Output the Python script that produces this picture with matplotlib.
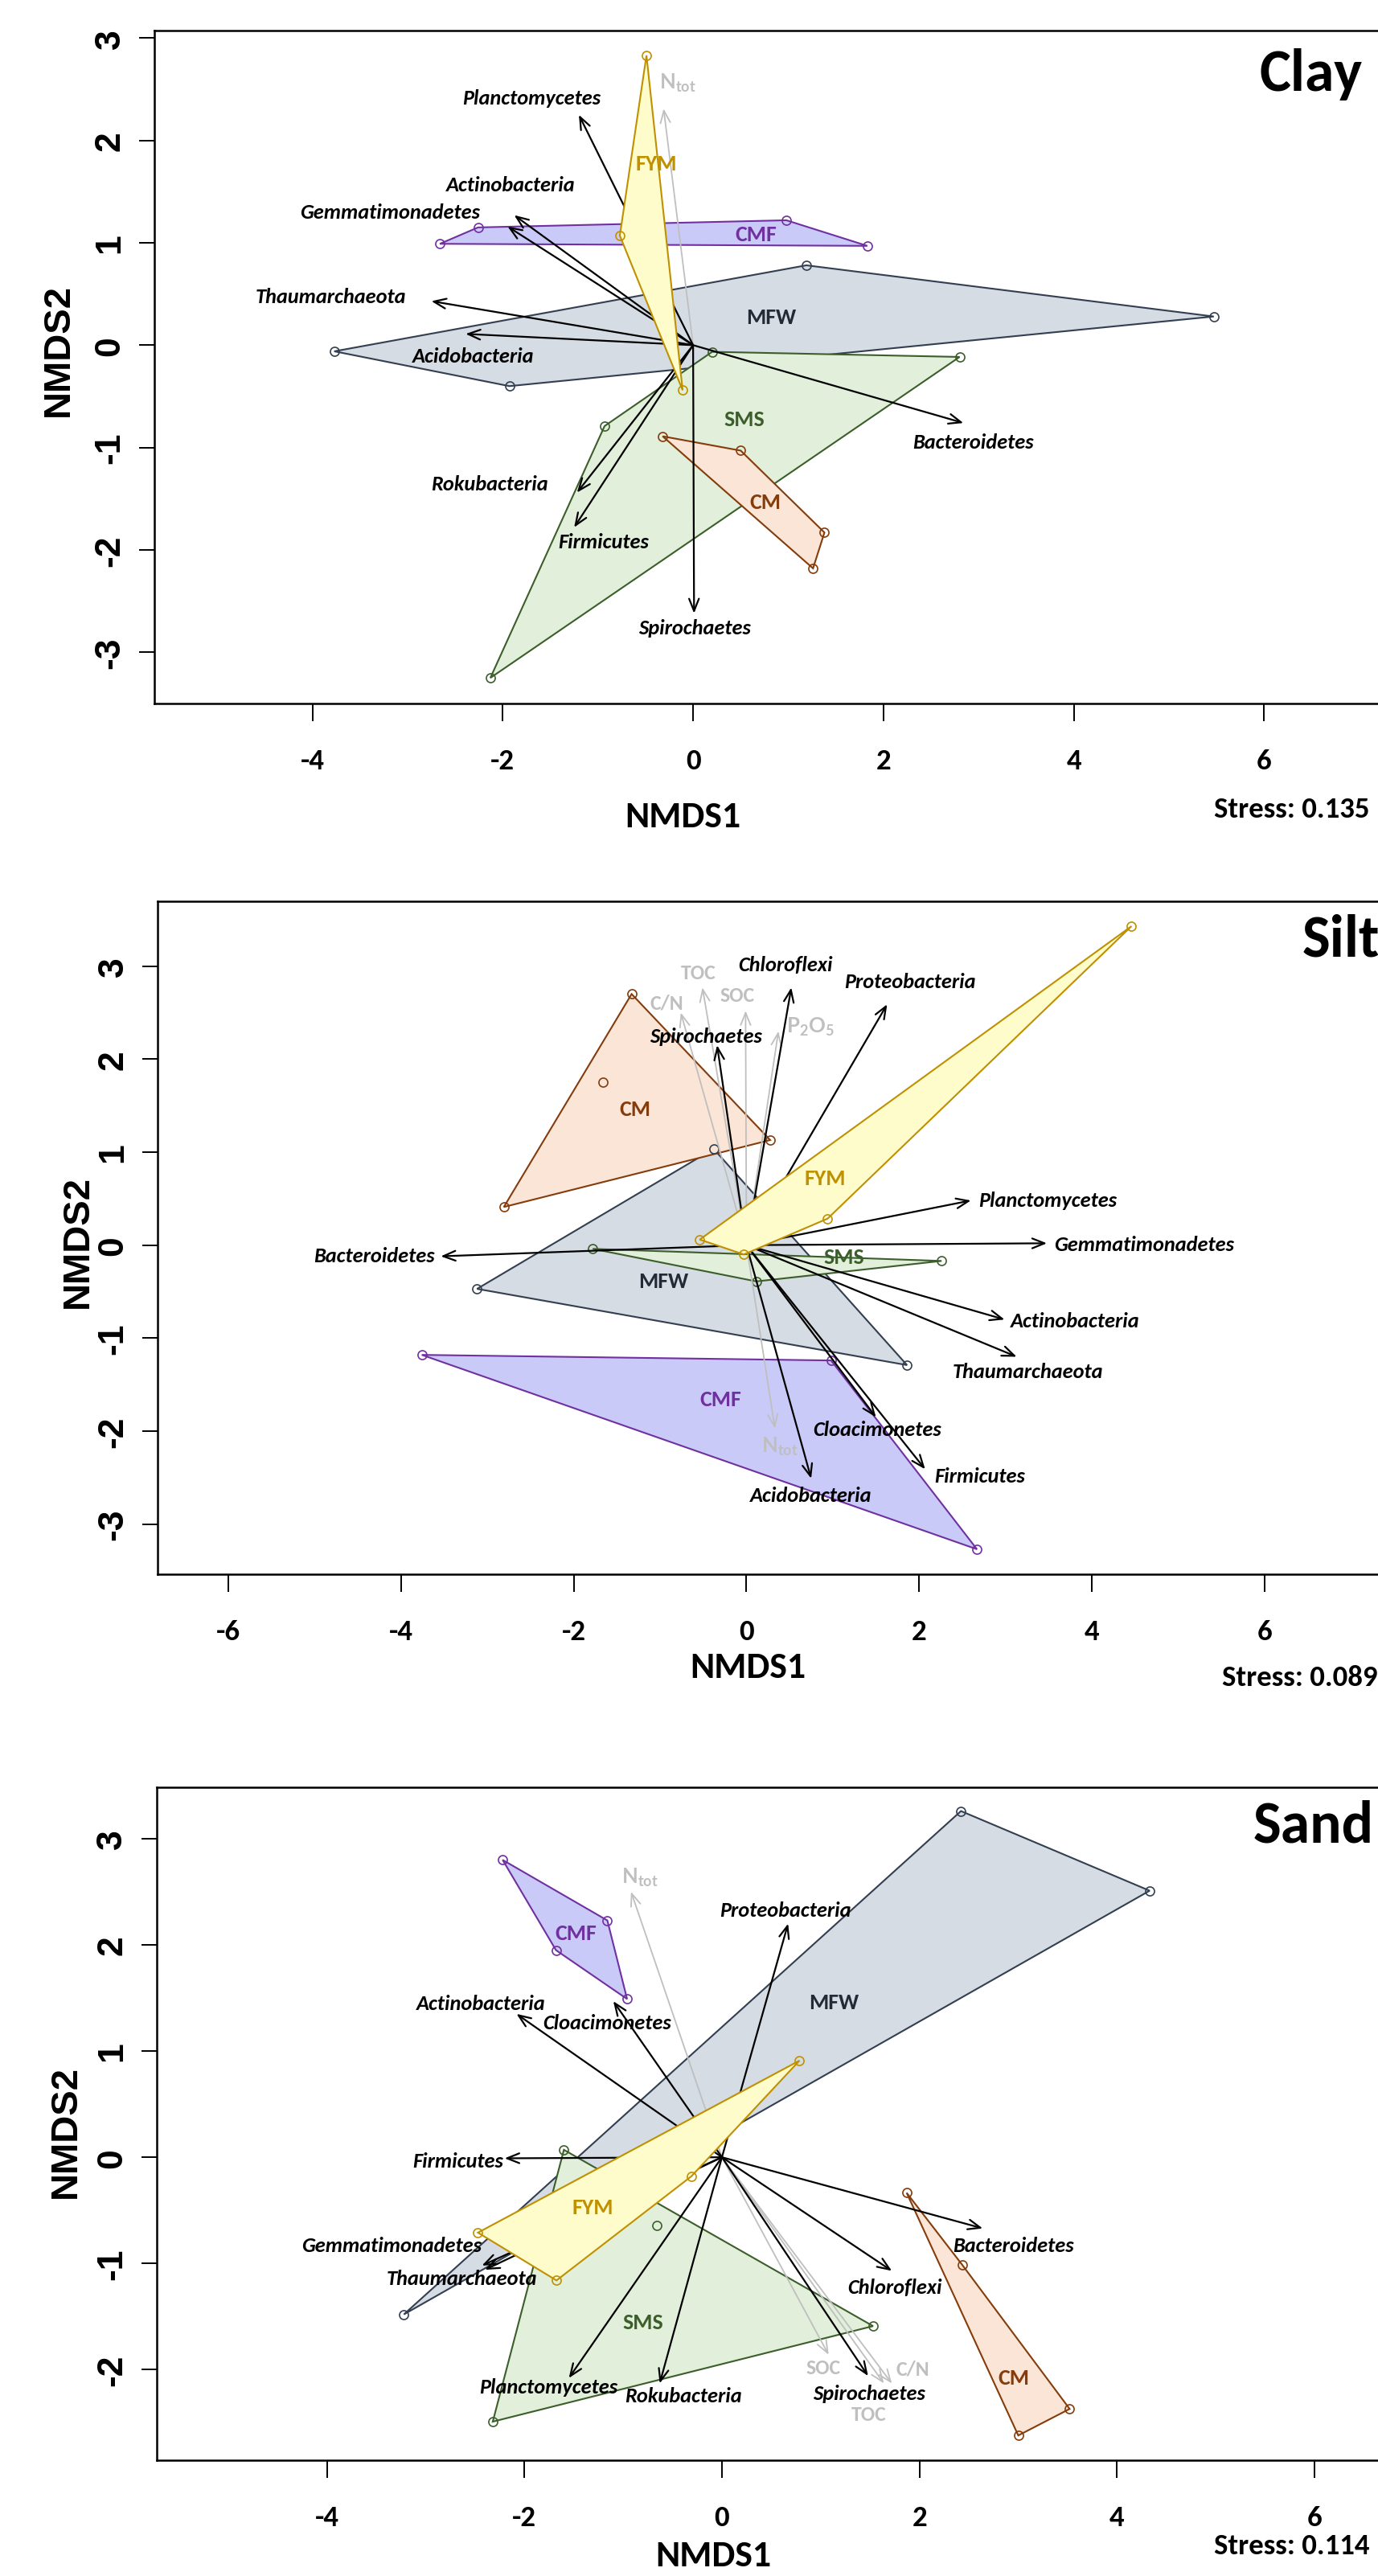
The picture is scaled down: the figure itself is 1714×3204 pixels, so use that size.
import matplotlib
matplotlib.use("Agg")
import matplotlib.pyplot as plt
from matplotlib.patches import Polygon

W, H = 1715, 3205
DPI = 100

CAL = ["Carlito", "Lato", "DejaVu Sans"]
ARI = ["Liberation Sans", "DejaVu Sans"]
plt.rcParams["mathtext.fontset"] = "custom"
plt.rcParams["mathtext.rm"] = "Lato"
plt.rcParams["mathtext.bf"] = "Lato:bold"

FILL = {"MFW": "#d6dce4", "SMS": "#e2efda", "CMF": "#cacaf9", "CM": "#fbe5d6", "FYM": "#fffccc"}
EDGE = {"MFW": "#333f50", "SMS": "#3b5e2b", "CMF": "#7030a0", "CM": "#843c0c", "FYM": "#bf9000"}
LABC = {"MFW": "#222a35", "SMS": "#3b5e2b", "CMF": "#7030a0", "CM": "#843c0c", "FYM": "#bf9000"}
GREY = "#bfbfbf"
HEAVY = 800

# ---------------- Clay ----------------
clay_sites = {
    "MFW": [(-3.77, -0.06), (-1.93, -0.40), (5.47, 0.28), (1.19, 0.78)],
    "SMS": [(-2.13, -3.25), (2.80, -0.115), (0.20, -0.065), (-0.93, -0.79)],
    "CMF": [(-2.66, 0.99), (1.83, 0.97), (0.98, 1.22), (-2.26, 1.15)],
    "CM": [(-0.32, -0.89), (1.26, -2.18), (1.38, -1.83), (0.50, -1.03)],
    "FYM": [(-0.49, 2.83), (-0.77, 1.07), (-0.11, -0.44)],
}
clay_group_xy = {"FYM": (-0.39, 1.78), "CMF": (0.66, 1.09), "MFW": (0.82, 0.28),
                 "SMS": (0.54, -0.72), "CM": (0.76, -1.53)}
clay_taxa = ["Planctomycetes", "Actinobacteria", "Gemmatimonadetes", "Thaumarchaeota",
             "Acidobacteria", "Bacteroidetes", "Rokubacteria", "Firmicutes", "Spirochaetes"]
clay_taxa_x = [-1.20, -1.88, -1.95, -2.75, -2.39, 2.84, -1.22, -1.25, 0.01]
clay_taxa_y = [2.25, 1.27, 1.16, 0.43, 0.11, -0.76, -1.44, -1.78, -2.62]
clay_taxa_lab = [(-1.70, 2.42), (-1.92, 1.57), (-3.18, 1.30), (-3.81, 0.48), (-2.31, -0.10),
                 (2.94, -0.94), (-2.14, -1.35), (-0.94, -1.92), (0.02, -2.76)]
clay_env = [r"$\mathbf{N_{tot}}$"]
clay_env_x = [-0.31]
clay_env_y = [2.31]
clay_env_lab = [(-0.16, 2.57)]

# ---------------- Silt ----------------
silt_sites = {
    "MFW": [(-3.12, -0.47), (-0.38, 1.035), (1.86, -1.29)],
    "SMS": [(-1.78, -0.04), (2.26, -0.17), (0.115, -0.39)],
    "CMF": [(-3.76, -1.18), (0.98, -1.24), (2.67, -3.27)],
    "CM": [(-1.33, 2.70), (-2.81, 0.41), (0.275, 1.13), (-1.66, 1.75)],
    "FYM": [(4.46, 3.43), (-0.54, 0.06), (-0.03, -0.10), (0.94, 0.285)],
}
silt_group_xy = {"FYM": (0.91, 0.72), "CMF": (-0.30, -1.65), "MFW": (-0.96, -0.38),
                 "SMS": (1.13, -0.12), "CM": (-1.29, 1.47)}
silt_taxa = ["Bacteroidetes", "Chloroflexi", "Proteobacteria", "Spirochaetes", "Planctomycetes",
             "Gemmatimonadetes", "Actinobacteria", "Thaumarchaeota", "Cloacimonetes",
             "Firmicutes", "Acidobacteria"]
silt_taxa_x = [-3.54, 0.52, 1.63, -0.34, 2.60, 3.48, 2.99, 3.13, 1.50, 2.07, 0.75]
silt_taxa_y = [-0.12, 2.77, 2.59, 2.15, 0.48, 0.02, -0.80, -1.20, -1.85, -2.41, -2.51]
silt_taxa_lab = [(-4.31, -0.11), (0.45, 3.02), (1.89, 2.84), (-0.47, 2.25), (3.49, 0.49),
                 (4.61, 0.01), (3.81, -0.81), (3.26, -1.36), (1.51, -1.98), (2.70, -2.48),
                 (0.75, -2.69)]
silt_env = ["TOC", "SOC", "C/N", r"$\mathbf{P_2O_5}$", r"$\mathbf{N_{tot}}$"]
silt_env_x = [-0.51, -0.01, -0.76, 0.37, 0.33]
silt_env_y = [2.77, 2.52, 2.50, 2.30, -1.97]
silt_env_lab = [(-0.56, 2.93), (-0.11, 2.69), (-0.92, 2.61), (0.74, 2.35), (0.39, -2.16)]

# ---------------- Sand ----------------
sand_sites = {
    "MFW": [(2.42, 3.26), (4.33, 2.51), (-3.22, -1.48)],
    "SMS": [(-1.60, 0.07), (-2.32, -2.49), (1.53, -1.59), (-0.66, -0.64)],
    "CMF": [(-2.22, 2.80), (-1.16, 2.23), (-0.96, 1.49), (-1.68, 1.95)],
    "CM": [(1.87, -0.335), (2.43, -1.01), (3.52, -2.37), (3.00, -2.62)],
    "FYM": [(0.785, 0.91), (-2.47, -0.71), (-1.675, -1.16), (-0.31, -0.18)],
}
sand_group_xy = {"FYM": (-1.31, -0.47), "CMF": (-1.48, 2.11), "MFW": (1.13, 1.46),
                 "SMS": (-0.80, -1.55), "CM": (2.95, -2.07)}
sand_taxa = ["Proteobacteria", "Actinobacteria", "Cloacimonetes", "Firmicutes",
             "Gemmatimonadetes", "Thaumarchaeota", "Planctomycetes", "Rokubacteria",
             "Bacteroidetes", "Chloroflexi", "Spirochaetes"]
sand_taxa_x = [0.67, -2.08, -1.10, -2.20, -2.43, -2.40, -1.55, -0.63, 2.64, 1.72, 1.48]
sand_taxa_y = [2.20, 1.35, 1.47, -0.01, -1.02, -1.06, -2.08, -2.13, -0.67, -1.07, -2.06]
sand_taxa_lab = [(0.64, 2.33), (-2.44, 1.45), (-1.16, 1.27), (-2.67, -0.03), (-3.34, -0.83),
                 (-2.63, -1.14), (-1.76, -2.16), (-0.39, -2.24), (2.95, -0.83), (1.75, -1.22),
                 (1.49, -2.22)]
sand_env = [r"$\mathbf{N_{tot}}$", "SOC", "C/N", "TOC"]
sand_env_x = [-0.92, 1.08, 1.72, 1.64]
sand_env_y = [2.50, -1.86, -2.13, -2.13]
sand_env_lab = [(-0.83, 2.64), (1.03, -1.98), (1.93, -1.99), (1.49, -2.42)]

stress = [0.135, 0.089, 0.114]
soils = ["Clay", "Silt", "Sand"]


def hull(pts):
    pts = sorted(set(pts))
    if len(pts) < 3:
        return pts

    def cross(o, a, b):
        return (a[0] - o[0]) * (b[1] - o[1]) - (a[1] - o[1]) * (b[0] - o[0])

    lo, up = [], []
    for p in pts:
        while len(lo) >= 2 and cross(lo[-2], lo[-1], p) <= 0:
            lo.pop()
        lo.append(p)
    for p in reversed(pts):
        while len(up) >= 2 and cross(up[-2], up[-1], p) <= 0:
            up.pop()
        up.append(p)
    return lo[:-1] + up[:-1]


def draw_arrows(ax, xs, ys, color, lw, z):
    for x, y in zip(xs, ys):
        ax.annotate("", xy=(x, y), xytext=(0, 0), zorder=z,
                    arrowprops=dict(arrowstyle="->,head_length=0.55,head_width=0.22",
                                    color=color, lw=lw, shrinkA=0, shrinkB=0,
                                    mutation_scale=20))


def draw_panel(ax, sites, group_xy, taxa, tx, ty, tlab, env, ex, ey, elab):
    order = ["MFW", "SMS", "CMF", "CM", "FYM"]
    for g in order:
        z = 4 if g == "FYM" else 1
        ax.add_patch(Polygon(hull(sites[g]), closed=True, fc=FILL[g], ec=EDGE[g],
                             lw=1.5, zorder=z))
        xs = [p[0] for p in sites[g]]
        ys = [p[1] for p in sites[g]]
        ax.plot(xs, ys, "o", mfc="none", mec=EDGE[g], ms=8, mew=1.2, zorder=z + 0.5)
        gx, gy = group_xy[g]
        ax.text(gx, gy, g, color=LABC[g], family=CAL, weight=HEAVY, fontsize=20,
                ha="center", va="center", zorder=6)
    draw_arrows(ax, ex, ey, GREY, 1.3, 2)
    draw_arrows(ax, tx, ty, "black", 1.6, 3)
    for name, (lx, ly) in zip(taxa, tlab):
        ax.text(lx, ly, name, family=CAL, weight=HEAVY, style="italic", fontsize=19,
                ha="center", va="center", zorder=6)
    for name, (lx, ly) in zip(env, elab):
        ax.text(lx, ly, name, family=CAL, weight="bold", fontsize=18.5, color=GREY,
                ha="center", va="center", zorder=6)


fig = plt.figure(figsize=(W / DPI, H / DPI), dpi=DPI)

# pixel frames: left, top, bottom
frames = [(192, 39, 876), (195.8, 1121.7, 1958.7), (194.7, 2224, 3060.7)]
xlims = [(-5.66, 7.204), (-6.822, 7.324), (-5.724, 6.650)]
ylims = [(-3.50, 3.073), (-3.536, 3.700), (-2.851, 3.484)]
xticks = [[-4, -2, 0, 2, 4, 6], [-6, -4, -2, 0, 2, 4, 6], [-4, -2, 0, 2, 4, 6]]
yticks = [[-3, -2, -1, 0, 1, 2, 3], [-3, -2, -1, 0, 1, 2, 3], [-2, -1, 0, 1, 2, 3]]
ylab_px = [(72.7, 436), (97, 1545), (82, 2652)]
xlab_px = [(849, 1028.6), (930, 2086.7), (887, 3191.7)]
stress_px = [(1606.6, 1016.6), (1616.3, 2096.7), (1606.6, 3177.3)]
title_px = [(1567, 113.3), (1619.6, 1189.3), (1558.9, 2291.7)]

panels = [
    (clay_sites, clay_group_xy, clay_taxa, clay_taxa_x, clay_taxa_y, clay_taxa_lab,
     clay_env, clay_env_x, clay_env_y, clay_env_lab),
    (silt_sites, silt_group_xy, silt_taxa, silt_taxa_x, silt_taxa_y, silt_taxa_lab,
     silt_env, silt_env_x, silt_env_y, silt_env_lab),
    (sand_sites, sand_group_xy, sand_taxa, sand_taxa_x, sand_taxa_y, sand_taxa_lab,
     sand_env, sand_env_x, sand_env_y, sand_env_lab),
]

for i, data in enumerate(panels):
    l, t, b = frames[i]
    ax = fig.add_axes([l / W, 1 - b / H, (W - l) / W, (b - t) / H])
    draw_panel(ax, *data)
    ax.set_xlim(*xlims[i])
    ax.set_ylim(*ylims[i])
    ax.spines["right"].set_visible(False)
    for s in ["left", "top", "bottom"]:
        ax.spines[s].set_linewidth(1.8)

    ax.set_xticks(xticks[i], labels=[str(v) for v in xticks[i]])
    ax.set_yticks(yticks[i], labels=[str(v) for v in yticks[i]])
    ax.tick_params(axis="x", length=15.8, width=1.4, pad=24)
    ax.tick_params(axis="y", length=13.7, width=1.4, pad=11)
    for lab in ax.get_xticklabels():
        lab.set_family(CAL)
        lab.set_weight(HEAVY)
        lab.set_fontsize(26.5)
    for lab in ax.get_yticklabels():
        lab.set_family(ARI)
        lab.set_weight("bold")
        lab.set_fontsize(32)
        lab.set_rotation(90)
        lab.set_va("center")

    bw, bh = W - l, b - t
    ax.set_ylabel("NMDS2", family=ARI, weight="bold", fontsize=34)
    ax.yaxis.label.set_va("center")
    ax.yaxis.set_label_coords((ylab_px[i][0] - l) / bw, (b - ylab_px[i][1]) / bh)
    ax.set_xlabel("NMDS1", family=CAL, weight=HEAVY, fontsize=33)
    ax.xaxis.label.set_va("baseline")
    ax.xaxis.set_label_coords((xlab_px[i][0] - l) / bw, (b - xlab_px[i][1]) / bh)

    sx, sy = stress_px[i]
    fig.text(sx / W, 1 - sy / H, "Stress: %.3f" % stress[i], family=CAL, weight=HEAVY,
             fontsize=26.5, ha="center", va="baseline")
    tx_, ty_ = title_px[i]
    fig.text(tx_ / W, 1 - ty_ / H, soils[i], family=CAL, weight=HEAVY, fontsize=53,
             ha="left", va="baseline")

fig.savefig("out.png", dpi=DPI, facecolor="white")
